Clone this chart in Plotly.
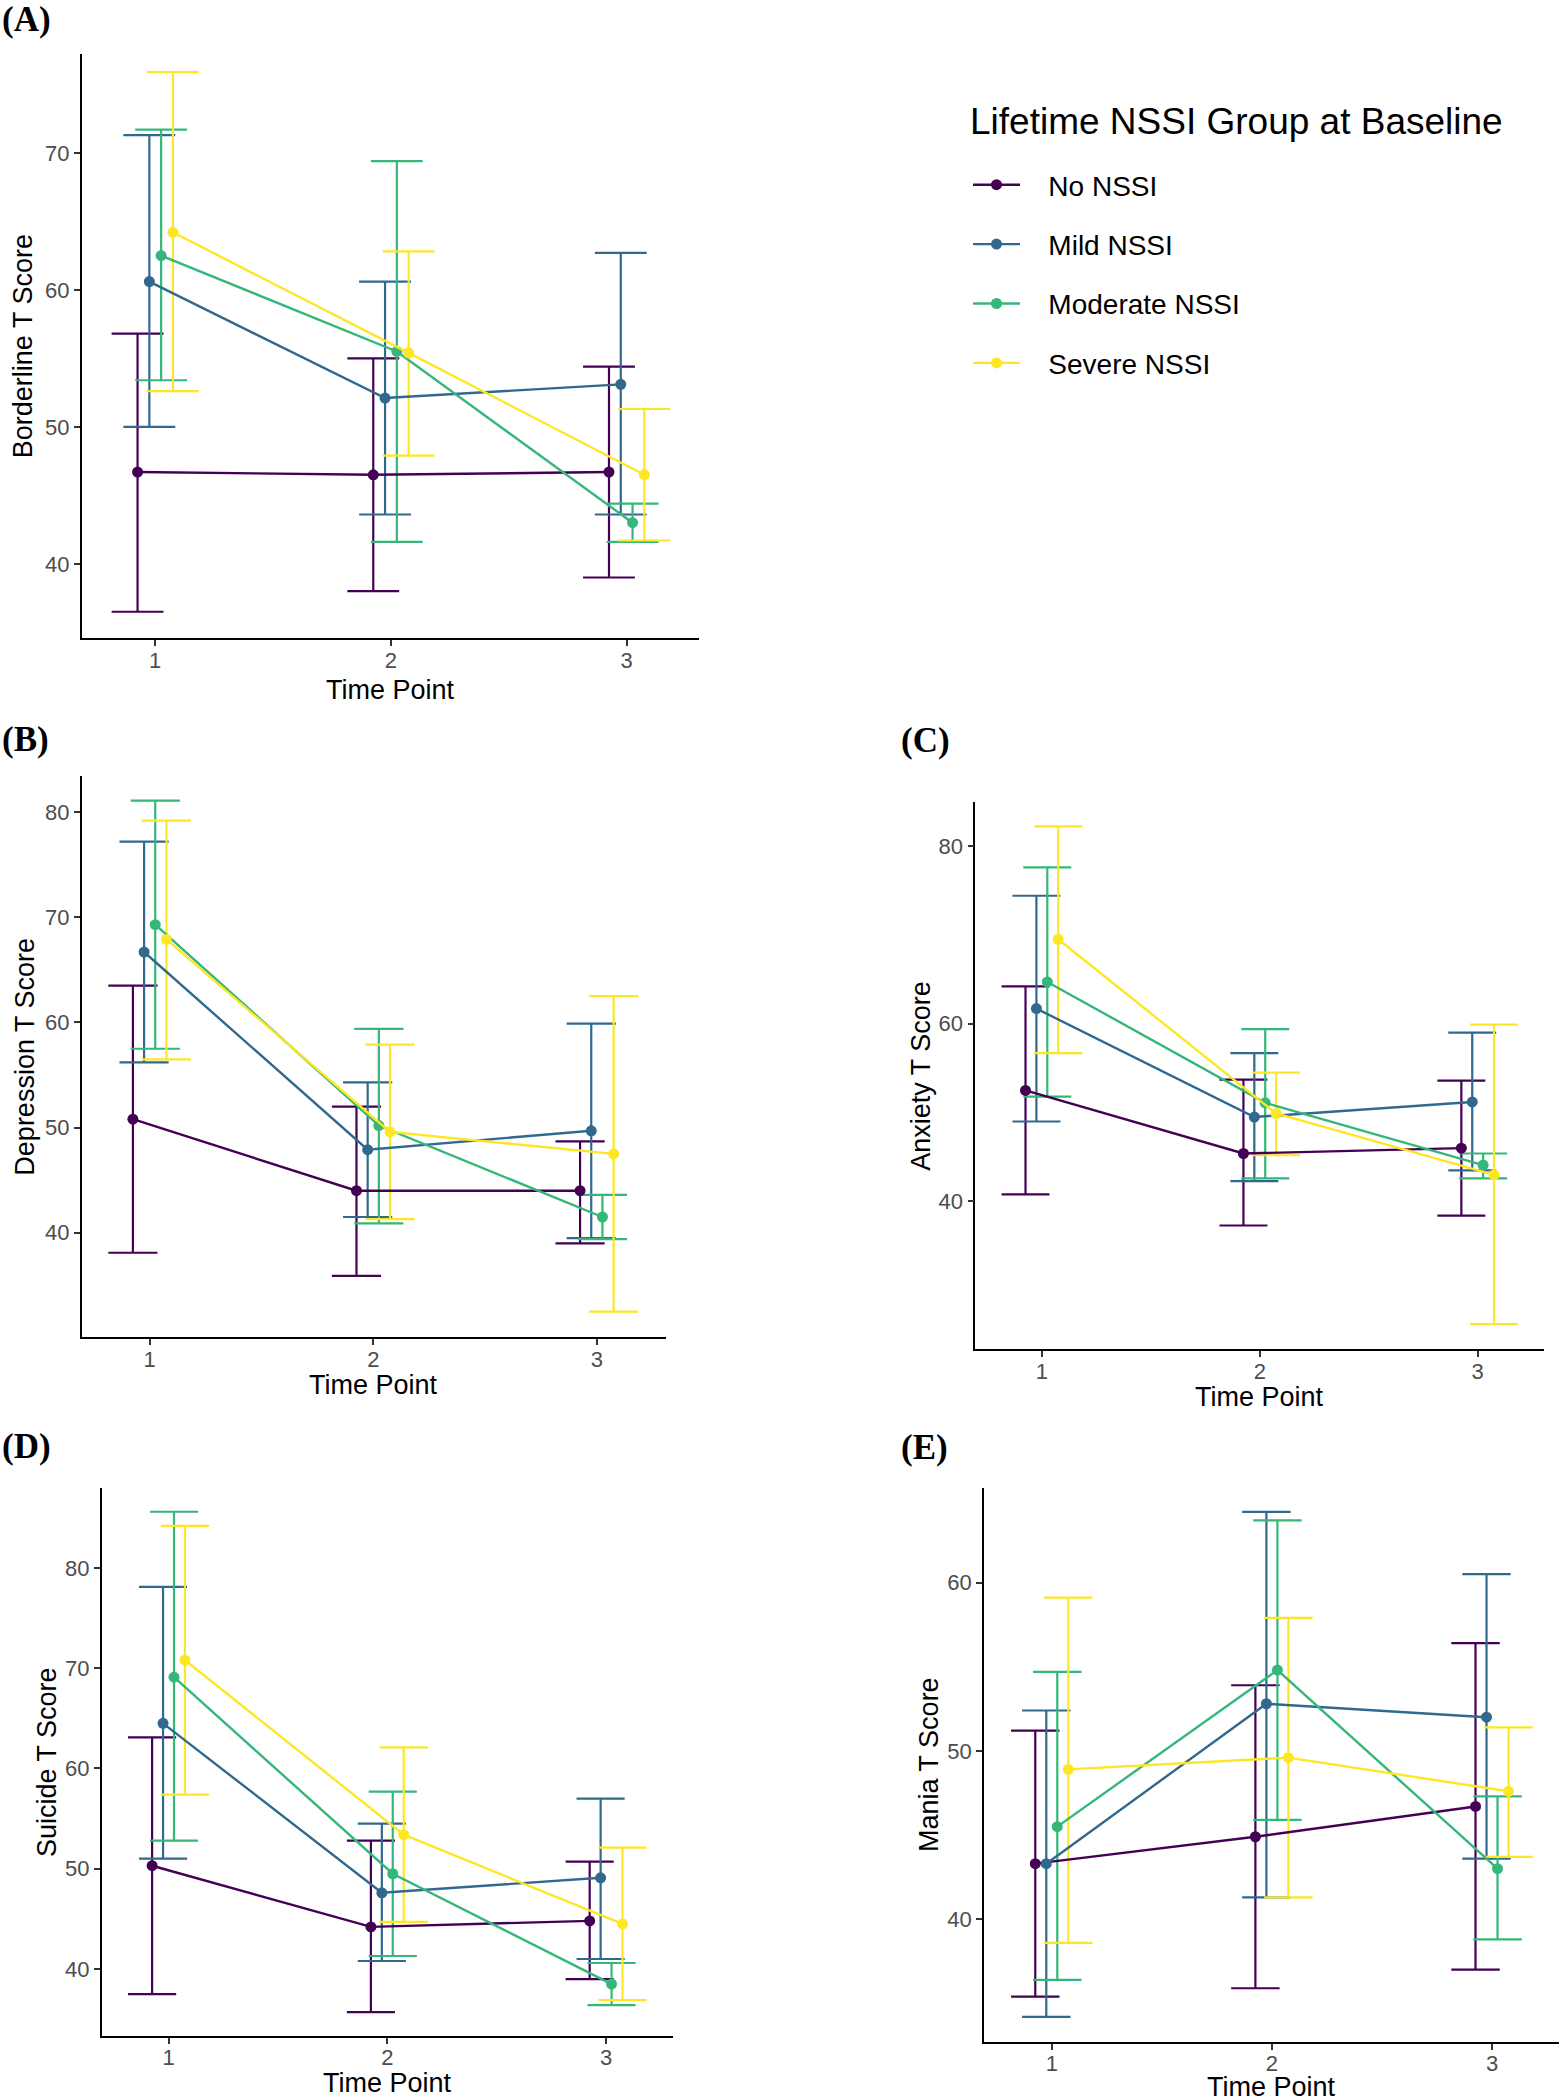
import plotly.graph_objects as go

# ---------------- data ----------------
groups = ["No NSSI", "Mild NSSI", "Moderate NSSI", "Severe NSSI"]
time_points = [1, 2, 3]
x_tick_labels = ["1", "2", "3"]

# Borderline (A): rows = groups, cols = time points
borderline_mean = [[46.7, 46.5, 46.7], [60.6, 52.1, 53.1], [62.5, 55.5, 43.0], [64.2, 55.4, 46.5]]
borderline_upper = [[56.8, 55.0, 54.4], [71.3, 60.6, 62.7], [71.7, 69.4, 44.4], [75.9, 62.8, 51.3]]
borderline_lower = [[36.5, 38.0, 39.0], [50.0, 43.6, 43.6], [53.4, 41.6, 41.6], [52.6, 47.9, 41.7]]

# Depression (B)
depression_mean = [[50.8, 44.0, 44.0], [66.7, 47.9, 49.7], [69.3, 50.2, 41.5], [67.9, 49.6, 47.5]]
depression_upper = [[63.5, 52.0, 48.7], [77.2, 54.3, 59.9], [81.1, 59.4, 43.6], [79.2, 57.9, 62.5]]
depression_lower = [[38.1, 35.9, 39.0], [56.2, 41.5, 39.5], [57.5, 40.9, 39.4], [56.5, 41.3, 32.5]]

# Anxiety (C)
anxiety_mean = [[52.5, 45.4, 46.0], [61.7, 49.5, 51.2], [64.7, 51.1, 44.1], [69.5, 49.9, 43.0]]
anxiety_upper = [[64.2, 53.7, 53.6], [74.4, 56.7, 59.0], [77.6, 59.4, 45.4], [82.2, 54.5, 59.9]]
anxiety_lower = [[40.8, 37.3, 38.4], [49.0, 42.3, 43.5], [51.8, 42.6, 42.6], [56.7, 45.2, 26.2]]

# Suicide (D)
suicide_mean = [[50.3, 44.2, 44.8], [64.5, 47.6, 49.1], [69.1, 49.5, 38.5], [70.8, 53.4, 44.5]]
suicide_upper = [[63.1, 52.8, 50.7], [78.1, 54.5, 57.0], [85.6, 57.7, 40.6], [84.2, 62.1, 52.1]]
suicide_lower = [[37.5, 35.7, 39.0], [51.0, 40.8, 41.0], [52.8, 41.3, 36.4], [57.4, 44.7, 36.9]]

# Mania (E)
mania_mean = [[43.3, 44.9, 46.7], [43.3, 52.8, 52.0], [45.5, 54.8, 43.0], [48.9, 49.6, 47.6]]
mania_upper = [[51.2, 53.9, 56.4], [52.4, 64.2, 60.5], [54.7, 63.7, 47.3], [59.1, 57.9, 51.4]]
mania_lower = [[35.4, 35.9, 37.0], [34.2, 41.3, 43.6], [36.4, 45.9, 38.8], [38.6, 41.3, 43.7]]

legend_title = "Lifetime NSSI Group at Baseline"

# ---------------- styling ----------------
W, H = 1560, 2100
colors = ["#440154", "#31688E", "#35B779", "#FDE725"]
dodge = [-0.075, -0.025, 0.025, 0.075]
SANS = "Liberation Sans, Arial, sans-serif"
SERIF = "Liberation Serif, Times New Roman, serif"
NBSP = "\u00a0"

panels = [
    dict(letter="(A)", ytitle="Borderline T Score",
         mean=borderline_mean, up=borderline_upper, lo=borderline_lower,
         xpx=(81.7, 698.8), ypx=(54.2, 638.2), xr=(0.688, 3.306), yr=(34.57, 77.2),
         yticks=[40, 50, 60, 70], ytitle_x=23, xtitle_dy=52, letter_xy=(0, 19)),
    dict(letter="(B)", ytitle="Depression T Score",
         mean=depression_mean, up=depression_upper, lo=depression_lower,
         xpx=(81.7, 665.7), ypx=(776.1, 1337.2), xr=(0.696, 3.308), yr=(30.07, 83.43),
         yticks=[40, 50, 60, 70, 80], ytitle_x=25, xtitle_dy=48, letter_xy=(0, 739)),
    dict(letter="(C)", ytitle="Anxiety T Score",
         mean=anxiety_mean, up=anxiety_upper, lo=anxiety_lower,
         xpx=(975.4, 1543.5), ypx=(802.4, 1349.3), xr=(0.695, 3.302), yr=(23.37, 84.9),
         yticks=[40, 60, 80], ytitle_x=921, xtitle_dy=48, letter_xy=(899, 740)),
    dict(letter="(D)", ytitle="Suicide T Score",
         mean=suicide_mean, up=suicide_upper, lo=suicide_lower,
         xpx=(101.9, 672.6), ypx=(1488.3, 2035.9), xr=(0.6955, 3.304), yr=(33.33, 87.94),
         yticks=[40, 50, 60, 70, 80], ytitle_x=47, xtitle_dy=47, letter_xy=(0, 1446)),
    dict(letter="(E)", ytitle="Mania T Score",
         mean=mania_mean, up=mania_upper, lo=mania_lower,
         xpx=(984.1, 1558.5), ypx=(1488.3, 2041.6), xr=(0.6925, 3.302), yr=(32.73, 65.6),
         yticks=[40, 50, 60], ytitle_x=929, xtitle_dy=45, letter_xy=(899, 1447)),
]

fig = go.Figure()
annotations = []
layout_axes = {}

for i, p in enumerate(panels, start=1):
    xa = "x" if i == 1 else f"x{i}"
    ya = "y" if i == 1 else f"y{i}"
    xkey = "xaxis" if i == 1 else f"xaxis{i}"
    ykey = "yaxis" if i == 1 else f"yaxis{i}"
    px_per_unit = (p["xpx"][1] - p["xpx"][0]) / (p["xr"][1] - p["xr"][0])
    cap = 0.11 * px_per_unit

    # error bars first (drawn beneath lines)
    for g in range(4):
        xs = [t + dodge[g] for t in time_points]
        m = p["mean"][g]
        fig.add_trace(go.Scatter(
            x=xs, y=m, xaxis=xa, yaxis=ya, mode="markers",
            marker=dict(size=1, color="rgba(0,0,0,0)"),
            error_y=dict(type="data", symmetric=False,
                         array=[u - v for u, v in zip(p["up"][g], m)],
                         arrayminus=[v - l for v, l in zip(m, p["lo"][g])],
                         width=cap, thickness=2.2, color=colors[g]),
            showlegend=False, hoverinfo="skip"))
    # lines + points
    for g in range(4):
        xs = [t + dodge[g] for t in time_points]
        fig.add_trace(go.Scatter(
            x=xs, y=p["mean"][g], xaxis=xa, yaxis=ya, mode="lines+markers",
            line=dict(color=colors[g], width=2.4),
            marker=dict(color=colors[g], size=11),
            name=NBSP * 3 + groups[g], legendgroup=groups[g], showlegend=(i == 1)))

    xdom = [p["xpx"][0] / W, p["xpx"][1] / W]
    ydom = [1 - p["ypx"][1] / H, 1 - p["ypx"][0] / H]
    common = dict(showline=True, linecolor="black", linewidth=1.8, ticks="outside",
                  ticklen=6, tickwidth=1.6, tickcolor="#333333", showgrid=False,
                  zeroline=False, tickfont=dict(family=SANS, size=22, color="#4D4D4D"))
    layout_axes[xkey] = dict(domain=xdom, range=list(p["xr"]), anchor=ya,
                             tickvals=time_points, ticktext=x_tick_labels,
                             ticklabelstandoff=-5, **common)
    layout_axes[ykey] = dict(domain=ydom, range=list(p["yr"]), anchor=xa,
                             tickvals=p["yticks"], ticklabelstandoff=0, **common)

    # axis titles
    annotations.append(dict(text="Time Point", xref="paper", yref="paper",
                            x=(p["xpx"][0] + p["xpx"][1]) / 2 / W,
                            y=1 - (p["ypx"][1] + p["xtitle_dy"]) / H,
                            xanchor="center", yanchor="middle", showarrow=False,
                            font=dict(family=SANS, size=27, color="black")))
    annotations.append(dict(text=p["ytitle"], xref="paper", yref="paper",
                            x=p["ytitle_x"] / W,
                            y=1 - (p["ypx"][0] + p["ypx"][1]) / 2 / H,
                            xanchor="center", yanchor="middle", textangle=-90,
                            showarrow=False,
                            font=dict(family=SANS, size=27, color="black")))
    # panel letter
    annotations.append(dict(text=f"<b>{p['letter']}</b>", xref="paper", yref="paper",
                            x=p["letter_xy"][0] / W, y=1 - p["letter_xy"][1] / H,
                            xanchor="left", yanchor="middle", showarrow=False,
                            font=dict(family=SERIF, size=35, color="black")))

# legend title as a text annotation
annotations.append(dict(text=legend_title, xref="paper", yref="paper",
                        x=968 / W, y=1 - 122 / H, xanchor="left", yanchor="middle",
                        showarrow=False, font=dict(family=SANS, size=37, color="black")))

fig.update_layout(
    width=W, height=H, autosize=False,
    margin=dict(l=0, r=0, t=0, b=0),
    paper_bgcolor="white", plot_bgcolor="white",
    annotations=annotations,
    legend=dict(
        font=dict(family=SANS, size=28, color="black"),
        x=968 / W, y=1 - 160 / H, xanchor="left", yanchor="top",
        tracegroupgap=20, itemwidth=47, bgcolor="rgba(0,0,0,0)"),
    **layout_axes,
)

fig.write_html("out.html", config={"displayModeBar": False},
               post_script="document.body.style.margin='0px';")
